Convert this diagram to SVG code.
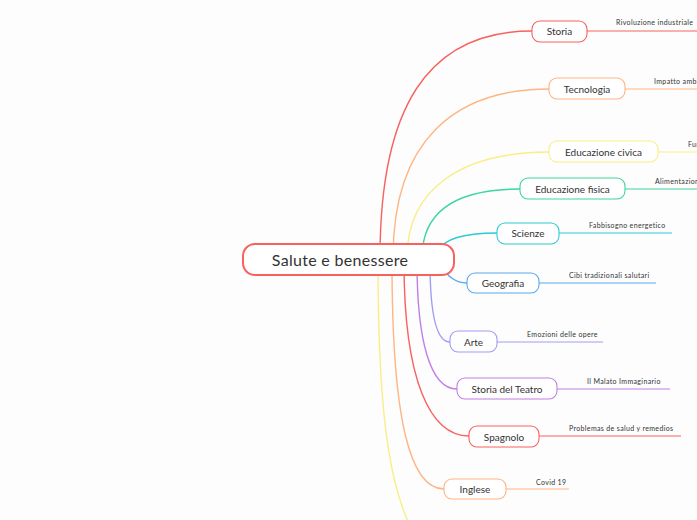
<svg xmlns="http://www.w3.org/2000/svg" width="697" height="520" viewBox="0 0 697 520">
<style>
.c{fill:none;stroke-width:1.4;stroke-linecap:round}
.s{fill:none;stroke-width:1}
.n{fill:#fff;stroke-width:1.1}
.t{font-family:Lato,"Noto Sans",sans-serif;font-size:10px;fill:#333;text-anchor:middle}
.l{font-family:Lato,"Noto Sans",sans-serif;font-size:7px;letter-spacing:0.35px;fill:#333}
.red{stroke:#F7625E}.ora{stroke:#FFB482}.yel{stroke:#F9EE86}.grn{stroke:#3DD5A0}.cya{stroke:#2FCAD4}.blu{stroke:#5BA8EE}.per{stroke:#A09CF5}.pur{stroke:#C17FE6}
</style>
<rect width="697" height="520" fill="#fdfdfd"/>
<g id="connectors">
<path class="c red" d="M380,258 C380,110 426,31 532,31"/>
<path class="c ora" d="M393,258 C393,140 455,89 549,89"/>
<path class="c yel" d="M407,258 C407,190 460,152 549,152"/>
<path class="c grn" d="M422,258 C422,215 450,189 520,189"/>
<path class="c cya" d="M438,250 C445,240 460,233 497,233"/>
<path class="c blu" d="M440,266 C448,276 455,283 467,283"/>
<path class="c per" d="M430,262 C430,310 435,342 450,342"/>
<path class="c pur" d="M417,262 C417,340 430,389 457,389"/>
<path class="c red" d="M404,262 C404,380 430,436 469,436"/>
<path class="c ora" d="M392,262 C392,420 410,489 444,489"/>
<path class="c yel" d="M378,262 C378,430 392,500 420,545"/>
<path class="s red" d="M587,31 H697"/>
<path class="s ora" d="M625,89 H697"/>
<path class="s yel" d="M658,152 H697"/>
<path class="s grn" d="M625,189 H697"/>
<path class="s cya" d="M559,233 H672"/>
<path class="s blu" d="M539,283 H656"/>
<path class="s per" d="M497,342 H603"/>
<path class="s pur" d="M557,389 H670"/>
<path class="s red" d="M539,436 H681"/>
<path class="s ora" d="M506,489 H569"/>
</g>
<g id="center">
<rect x="243" y="244" width="211" height="31" rx="12" fill="#fff" stroke="#F7625E" stroke-width="2"/>
<text class="t" x="340" y="266" style="font-size:16px;letter-spacing:0.3px">Salute e benessere</text>
</g>
<g id="storia"><rect class="n red" x="532" y="21" width="55" height="21" rx="8"/><text class="t" x="559.5" y="35">Storia</text><text class="l" x="616" y="25">Rivoluzione industriale</text></g>
<g id="tecnologia"><rect class="n ora" x="549" y="78" width="76" height="21" rx="8"/><text class="t" x="587" y="92.5">Tecnologia</text><text class="l" x="654" y="84">Impatto ambientale</text></g>
<g id="edciv"><rect class="n yel" x="549" y="141" width="109" height="21" rx="8"/><text class="t" x="603.5" y="155.5">Educazione civica</text><text class="l" x="688" y="147">Fumo</text></g>
<g id="edfis"><rect class="n grn" x="520" y="178" width="105" height="21" rx="8"/><text class="t" x="572.5" y="192.5">Educazione fisica</text><text class="l" x="655" y="184">Alimentazione</text></g>
<g id="scienze"><rect class="n cya" x="497" y="223" width="62" height="21" rx="8"/><text class="t" x="528" y="237">Scienze</text><text class="l" x="589" y="228">Fabbisogno energetico</text></g>
<g id="geografia"><rect class="n blu" x="467" y="273" width="72" height="20" rx="8"/><text class="t" x="503" y="287">Geografia</text><text class="l" x="569" y="278">Cibi tradizionali salutari</text></g>
<g id="arte"><rect class="n per" x="450" y="331" width="47" height="21" rx="8"/><text class="t" x="473.5" y="345.5">Arte</text><text class="l" x="527" y="337">Emozioni delle opere</text></g>
<g id="teatro"><rect class="n pur" x="457" y="378" width="100" height="21" rx="8"/><text class="t" x="507" y="392.5">Storia del Teatro</text><text class="l" x="587" y="384">Il Malato Immaginario</text></g>
<g id="spagnolo"><rect class="n red" x="469" y="426" width="70" height="21" rx="8"/><text class="t" x="504" y="440.5">Spagnolo</text><text class="l" x="569" y="431">Problemas de salud y remedios</text></g>
<g id="inglese"><rect class="n ora" x="444" y="479" width="62" height="20" rx="8"/><text class="t" x="475" y="493">Inglese</text><text class="l" x="536" y="485">Covid 19</text></g>
</svg>
